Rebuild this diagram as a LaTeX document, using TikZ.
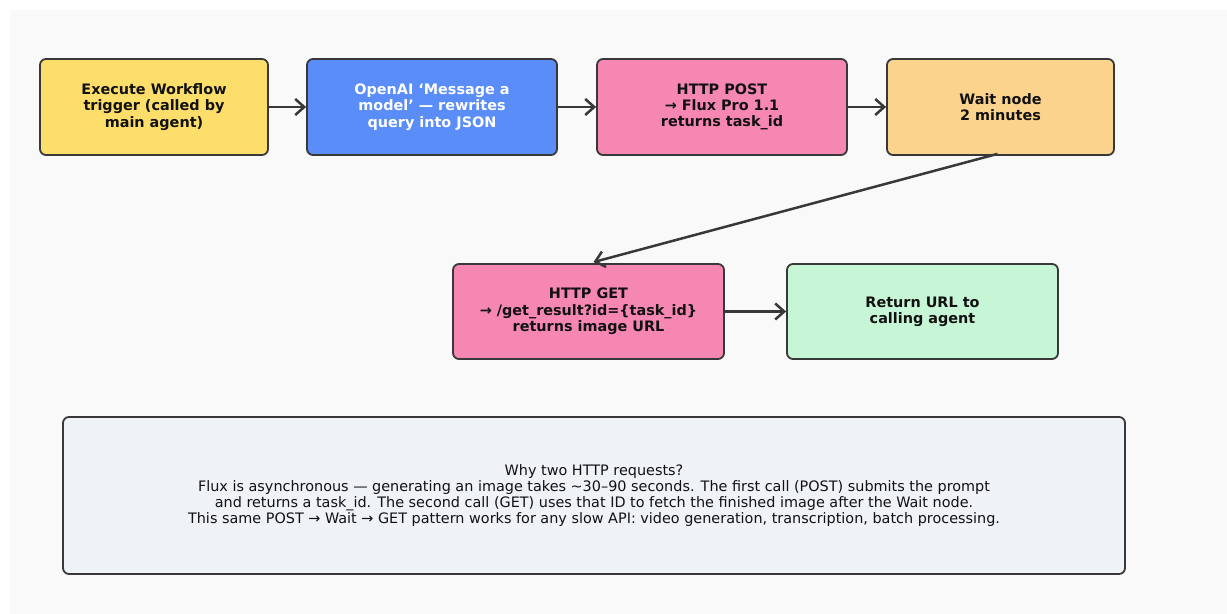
\documentclass[tikz,border=0pt]{standalone}
\usepackage{fontspec}
\setmainfont{DejaVu Sans}
\usetikzlibrary{arrows.meta}
\definecolor{bgpanel}{HTML}{F9F9F9}
\definecolor{edge}{HTML}{383838}
\definecolor{cyellow}{HTML}{FDDE6A}
\definecolor{cblue}{HTML}{5B8DF8}
\definecolor{cpink}{HTML}{F687B3}
\definecolor{corange}{HTML}{FBD38D}
\definecolor{cgreen}{HTML}{C6F6D5}
\definecolor{cnote}{HTML}{EFF3F8}
\definecolor{ctext}{HTML}{111111}
\tikzset{
  flowbox/.style={draw=edge, line width=1.8bp, rounded corners=6bp, align=center,
    font=\fontsize{14.4bp}{16.3bp}\selectfont\bfseries, text=ctext, inner sep=0pt},
  notebox/.style={draw=edge, line width=1.8bp, rounded corners=6bp, align=center,
    font=\fontsize{14.4bp}{16.3bp}\selectfont, text=ctext, inner sep=0pt},
  flowarrow/.style={draw=edge, line width=2.5bp, -{Straight Barb[length=9bp,width=16bp,line width=2.5bp]}}
}
\begin{document}
\begin{tikzpicture}[x=1bp,y=-1bp]
\useasboundingbox (0,0) rectangle (1227,614);
\fill[white] (0,0) rectangle (1227,614);
\fill[bgpanel] (10,10) rectangle (1227,614);

\node[flowbox, fill=cyellow, minimum width=228bp, minimum height=96bp] (b1) at (154,107)
  {Execute Workflow\\trigger (called by\\main agent)};
\node[flowbox, fill=cblue, text=white, minimum width=250bp, minimum height=96bp] (b2) at (432,107)
  {OpenAI ‘Message a\\model’ — rewrites\\query into JSON};
\node[flowbox, fill=cpink, minimum width=250bp, minimum height=96bp] (b3) at (722,107)
  {HTTP POST\\→ Flux Pro 1.1\\returns task\_id};
\node[flowbox, fill=corange, minimum width=227bp, minimum height=96bp] (b4) at (1000.5,107)
  {Wait node\\2 minutes};
\node[flowbox, fill=cpink, minimum width=271bp, minimum height=95bp] (b5) at (588.5,311.5)
  {HTTP GET\\→ /get\_result?id=\{task\_id\}\\returns image URL};
\node[flowbox, fill=cgreen, minimum width=271bp, minimum height=95bp] (b6) at (922.5,311.5)
  {Return URL to\\calling agent};
\node[notebox, fill=cnote, minimum width=1062bp, minimum height=157bp] (note) at (594,495.5)
  {Why two HTTP requests?\\
   Flux is asynchronous — generating an image takes \textasciitilde30–90 seconds. The first call (POST) submits the prompt\\
   and returns a task\_id. The second call (GET) uses that ID to fetch the finished image after the Wait node.\\
   This same POST → Wait → GET pattern works for any slow API: video generation, transcription, batch processing.};

\draw[flowarrow] (b1.east) -- (b2.west);
\draw[flowarrow] (b2.east) -- (b3.west);
\draw[flowarrow] (b3.east) -- (b4.west);
\draw[flowarrow] ([xshift=-3bp,yshift=2bp]b4.south) -- ([xshift=5bp,yshift=1bp]b5.north);
\draw[flowarrow] (b5.east) -- (b6.west);
\end{tikzpicture}
\end{document}
